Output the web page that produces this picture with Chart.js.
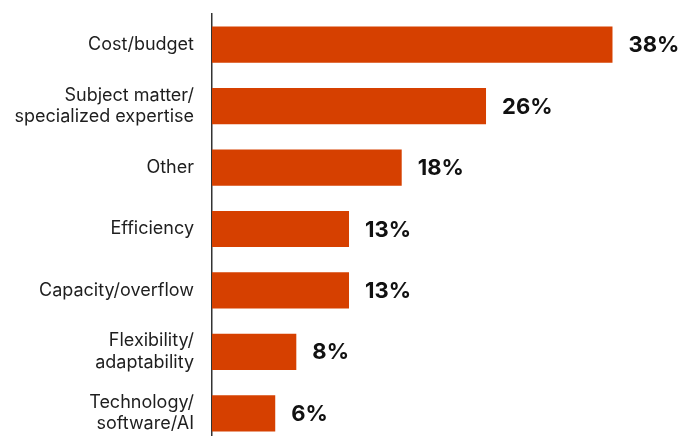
<!DOCTYPE html>
<html>
<head>
<meta charset="utf-8">
<script src="https://cdn.jsdelivr.net/npm/chart.js@4"></script>
<style>
  html, body { margin: 0; padding: 0; background: #fff; overflow: hidden; }
  #wrap { position: relative; width: 681px; height: 444px; }
</style>
</head>
<body>
<div id="wrap"><canvas id="reasonsChart"></canvas></div>
<script>
// categories and shares (percent of respondents)
const categories = [
  'Cost/budget',
  ['Subject matter/', 'specialized expertise'],
  'Other',
  'Efficiency',
  'Capacity/overflow',
  ['Flexibility/', 'adaptability'],
  ['Technology/', 'software/AI']
];
const shares = [38, 26, 18, 13, 13, 8, 6];

const barColor = '#d64000';
const fontFamily = 'Inter, "Noto Sans", sans-serif';

// writes the percentage just past the end of each bar
const valueLabels = {
  id: 'valueLabels',
  afterDatasetsDraw(chart) {
    const ctx = chart.ctx;
    const meta = chart.getDatasetMeta(0);
    ctx.save();
    ctx.font = `bold 22px ${fontFamily}`;
    ctx.fillStyle = '#111';
    ctx.textAlign = 'left';
    ctx.textBaseline = 'middle';
    meta.data.forEach((bar, i) => {
      ctx.fillText(shares[i] + '%', bar.x + 16, bar.y + 1);
    });
    ctx.restore();
  }
};

new Chart(document.getElementById('reasonsChart'), {
  type: 'bar',
  data: {
    labels: categories,
    datasets: [{
      data: shares,
      backgroundColor: barColor,
      borderWidth: 0,
      categoryPercentage: 1,
      barPercentage: 0.59
    }]
  },
  options: {
    indexAxis: 'y',
    responsive: true,
    maintainAspectRatio: false,
    animation: false,
    layout: { padding: { top: 14, right: 0, bottom: 0, left: 0 } },
    scales: {
      x: {
        display: false,
        min: 0,
        max: 44.5
      },
      y: {
        afterFit(scale) {
          // fixed gutter for the category names, no extra room above/below
          scale.width = 212;
          scale.paddingTop = 0;
          scale.paddingBottom = 0;
        },
        grid: { display: false, drawTicks: false },
        border: { display: true, color: '#333', width: 1.5 },
        ticks: {
          color: '#1e1e1e',
          padding: 18,
          font: { family: fontFamily, size: 18, lineHeight: 1.2 }
        }
      }
    },
    plugins: {
      legend: { display: false },
      tooltip: { enabled: false }
    }
  },
  plugins: [valueLabels]
});
</script>
</body>
</html>
